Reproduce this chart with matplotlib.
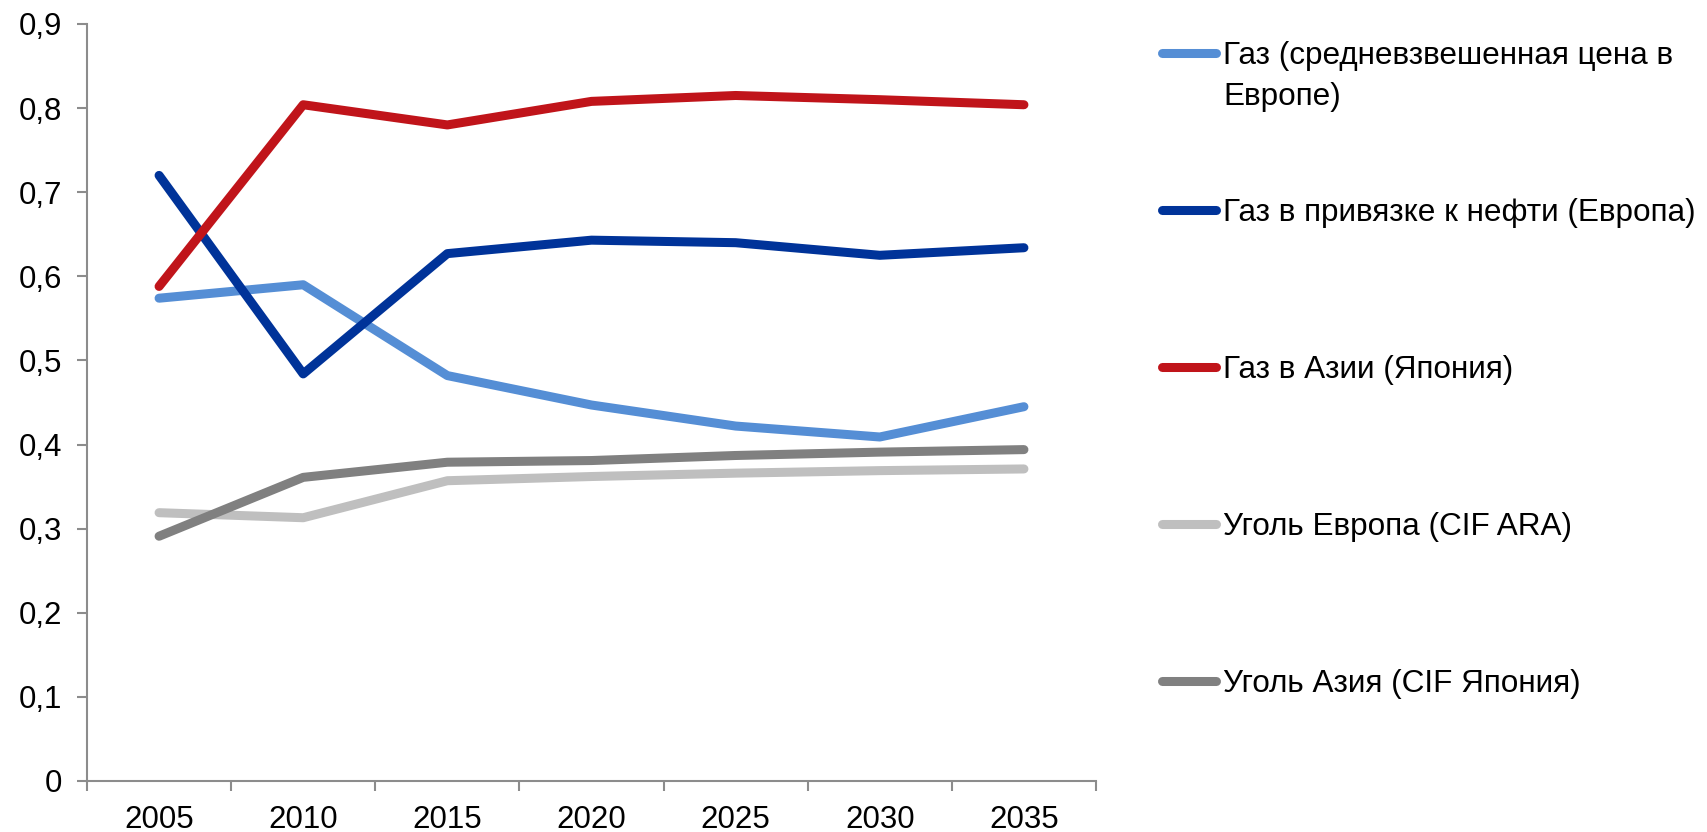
import matplotlib
matplotlib.use("Agg")
import matplotlib.pyplot as plt
from matplotlib.lines import Line2D
import numpy as np

plt.rcParams['font.family'] = ['Liberation Sans', 'DejaVu Sans']

years = ["2005", "2010", "2015", "2020", "2025", "2030", "2035"]
gas_eu_avg = [0.574, 0.590, 0.482, 0.447, 0.422, 0.409, 0.445]
gas_eu_oil = [0.720, 0.484, 0.627, 0.643, 0.640, 0.625, 0.634]
gas_asia = [0.588, 0.804, 0.780, 0.808, 0.815, 0.810, 0.804]
coal_eu = [0.319, 0.313, 0.357, 0.362, 0.366, 0.369, 0.371]
coal_asia = [0.291, 0.361, 0.379, 0.381, 0.387, 0.391, 0.394]

labels = ["Газ (средневзвешенная цена в\nЕвропе)",
          "Газ в привязке к нефти (Европа)",
          "Газ в Азии (Япония)",
          "Уголь Европа (CIF ARA)",
          "Уголь Азия (CIF Япония)"]
colors = ["#558ED5", "#003399", "#C0141A", "#BFBFBF", "#808080"]
series = [gas_eu_avg, gas_eu_oil, gas_asia, coal_eu, coal_asia]

W, H = 1707, 832
fig = plt.figure(figsize=(W / 100, H / 100), dpi=100)
y0_px, ytop_px = 781.0, 24.0
ax = fig.add_axes([87 / W, (H - y0_px) / H, (1096 - 87) / W, (y0_px - ytop_px) / H])

x = np.arange(len(years))
order = [3, 4, 0, 1, 2]
for i in order:
    ax.plot(x, series[i], color=colors[i], lw=6.5, solid_capstyle='round',
            solid_joinstyle='round')

ax.set_xlim(-0.5, len(years) - 0.5)
ax.set_ylim(0, 0.9)
yt = np.round(np.arange(0, 0.91, 0.1), 1)
ax.set_yticks(yt)
ax.set_yticklabels([("0" if v == 0 else f"{v:.1f}".replace(".", ",")) for v in yt])
ax.set_xticks(np.arange(-0.5, len(years), 1.0))
ax.set_xticklabels([])
ax.set_xticks(x, minor=True)
ax.set_xticklabels(years, minor=True)
ax.tick_params(axis='x', which='minor', length=0, pad=17, labelsize=22.5)
ax.tick_params(axis='x', which='major', length=7, width=1.5, color="#8C8C8C", direction='out')
ax.tick_params(axis='y', length=7, width=1.5, color="#8C8C8C", direction='out',
               labelsize=22.5, pad=11)

for s in ['top', 'right']:
    ax.spines[s].set_visible(False)
for s in ['left', 'bottom']:
    ax.spines[s].set_color("#8C8C8C")
    ax.spines[s].set_linewidth(1.5)

# manual legend (handle aligned with first text line)
leg_y = [53, 210, 367, 524, 681]
fs_leg = 22.7
cap_half = 11.3
line_gap = 40.7
for i, (lab, c) in enumerate(zip(labels, colors)):
    yf = (H - leg_y[i]) / H
    fig.add_artist(Line2D([1162 / W, 1216 / W], [yf, yf], color=c, lw=6.5,
                          solid_capstyle='round', transform=fig.transFigure))
    for k, part in enumerate(lab.split("\n")):
        base = leg_y[i] + cap_half + k * line_gap
        fig.text(1223 / W, (H - base) / H, part, fontsize=fs_leg,
                 va='baseline', ha='left')

fig.savefig("out.png", dpi=100)
